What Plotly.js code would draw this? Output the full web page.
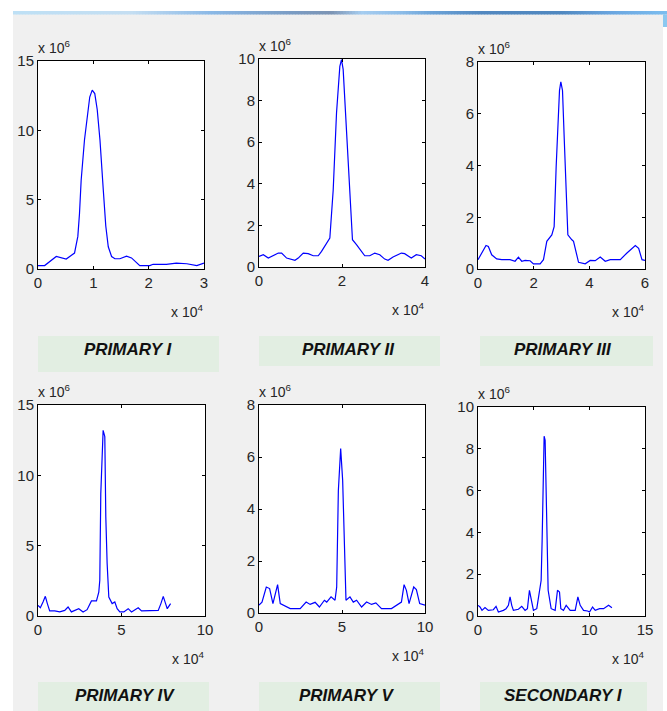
<!DOCTYPE html>
<html>
<head>
<meta charset="utf-8">
<script src="https://cdn.plot.ly/plotly-3.0.1.min.js"></script>
<style>html,body{margin:0;padding:0;background:#fff;}#chart{width:667px;height:711px;}</style>
</head>
<body>
<div id="chart"></div>
<script>
// ---- data (x in units of 10^4, y in units of 10^6) ----
const p1X = [0,0.12,0.33,0.51,0.66,0.72,0.75,0.78,0.84,0.89,0.935,0.98,1.026,1.07,1.12,1.18,1.225,1.27,1.33,1.39,1.48,1.60,1.69,1.84,2.02,2.08,2.32,2.50,2.69,2.87,3.0];
const p1Y = [0.24,0.25,0.9,0.72,1.15,2.35,4.0,6.4,9.3,11.0,12.4,12.9,12.65,11.5,9.3,5.7,3.1,1.6,0.9,0.74,0.74,0.92,0.8,0.24,0.25,0.34,0.34,0.43,0.38,0.24,0.43];

const p2X = [0,0.104,0.224,0.465,0.545,0.665,0.866,0.946,1.066,1.186,1.307,1.427,1.507,1.627,1.707,1.788,1.868,1.948,1.988,2.028,2.092,2.172,2.252,2.349,2.469,2.549,2.669,2.79,2.91,3.03,3.11,3.23,3.43,3.51,3.67,3.79,3.91,4.0];
const p2Y = [0.51,0.59,0.43,0.67,0.67,0.43,0.32,0.43,0.67,0.64,0.54,0.54,0.75,1.15,1.39,3.7,7.4,9.65,9.97,9.5,7.2,3.7,1.31,1.07,0.75,0.54,0.54,0.67,0.59,0.38,0.32,0.48,0.67,0.64,0.43,0.59,0.54,0.38];

const p3X = [0,0.132,0.288,0.372,0.492,0.672,0.852,1.152,1.332,1.452,1.572,1.692,1.872,1.992,2.232,2.352,2.472,2.652,2.736,2.808,2.868,2.928,2.976,3.036,3.096,3.156,3.228,3.372,3.432,3.612,3.852,4.032,4.212,4.392,4.572,4.752,5.112,5.352,5.652,5.772,5.892,6.0];
const p3Y = [0.36,0.62,0.91,0.87,0.55,0.39,0.36,0.36,0.3,0.46,0.3,0.33,0.32,0.2,0.2,0.36,1.07,1.32,1.64,3.95,5.24,6.9,7.23,6.9,5.1,3.05,1.32,1.13,1.07,0.26,0.2,0.33,0.32,0.46,0.3,0.36,0.36,0.62,0.91,0.8,0.36,0.33];

const p4X = [0,0.14,0.3,0.44,0.56,0.7,1.0,1.3,1.6,1.8,2.0,2.2,2.44,2.7,2.94,3.2,3.5,3.64,3.7,3.76,3.9,4.0,4.06,4.14,4.24,4.44,4.6,4.74,4.9,5.14,5.4,5.6,6.0,6.2,6.6,7.2,7.36,7.5,7.64,7.74,7.94];
const p4Y = [0.76,0.59,1.0,1.4,0.88,0.36,0.36,0.29,0.4,0.64,0.29,0.4,0.52,0.29,0.45,1.07,1.07,1.7,2.54,8.7,13.2,12.75,7.05,3.73,1.35,0.88,1.0,0.52,0.29,0.29,0.52,0.29,0.59,0.36,0.36,0.4,0.88,1.4,0.88,0.52,0.88];

const p5X = [0,0.18,0.44,0.64,0.84,0.94,1.12,1.28,1.58,1.88,2.48,2.84,3.08,3.38,3.64,3.94,4.08,4.34,4.58,4.68,4.78,4.92,5.04,5.14,5.24,5.48,5.68,5.88,6.18,6.48,6.78,7.04,7.38,7.98,8.44,8.58,8.74,8.88,9.04,9.32,9.48,9.68,10.0];
const p5Y = [0.3,0.42,1.0,0.94,0.36,0.62,1.09,0.36,0.26,0.17,0.17,0.42,0.33,0.41,0.23,0.49,0.42,0.62,0.49,1.0,4.7,6.33,5.1,2.16,0.49,0.62,0.42,0.49,0.23,0.42,0.33,0.39,0.17,0.17,0.36,0.42,1.09,0.87,0.36,1.0,0.9,0.36,0.3];

const p6X = [0,0.18,0.36,0.63,0.93,1.38,1.62,1.83,2.28,2.52,2.73,2.88,3.03,3.18,3.63,3.93,4.23,4.44,4.62,4.83,4.98,5.28,5.49,5.67,5.76,5.85,5.94,6.03,6.12,6.21,6.30,6.57,6.93,7.14,7.32,7.44,7.68,7.92,8.28,8.73,8.97,9.18,9.48,9.84,10.02,10.29,10.53,10.92,11.28,11.73,12.03];
const p6Y = [0.51,0.43,0.27,0.4,0.27,0.3,0.46,0.19,0.27,0.35,0.51,0.91,0.51,0.27,0.32,0.46,0.27,0.35,1.23,0.59,0.27,0.35,1.07,1.7,3.6,7.1,8.6,8.4,5.7,2.34,1.23,0.35,0.27,1.23,1.15,0.35,0.27,0.51,0.27,0.27,0.91,0.51,0.27,0.24,0.19,0.43,0.27,0.35,0.35,0.51,0.4];

const panelLabels = ['PRIMARY I','PRIMARY II','PRIMARY III','PRIMARY IV','PRIMARY V','SECONDARY I'];
const xTickVals = [[0,1,2,3],[0,2,4],[0,2,4,6],[0,5,10],[0,5,10],[0,5,10,15]];
const yTickVals = [[0,5,10,15],[0,2,4,6,8,10],[0,2,4,6,8],[0,5,10,15],[0,2,4,6,8],[0,2,4,6,8,10]];
const xExpLabel = 'x 10<sup>4</sup>';
const yExpLabel = 'x 10<sup>6</sup>';

// ---- layout geometry (pixels) ----
const W = 667, H = 711;
const boxes = [
  {l:38, r:204, t:61, b:269},
  {l:259,r:425, t:59, b:267},
  {l:478,r:645, t:62, b:269},
  {l:38, r:205, t:405,b:616},
  {l:259,r:425, t:405,b:613},
  {l:478,r:645, t:407,b:616}
];
const labelBoxes = [
  {l:38, r:219, t:336, b:372, cx:128, cy:349},
  {l:259,r:440, t:336, b:366, cx:348, cy:349},
  {l:480,r:653, t:336, b:366, cx:563, cy:349},
  {l:38, r:209, t:682, b:711, cx:125, cy:695},
  {l:259,r:440, t:682, b:711, cx:347, cy:695},
  {l:480,r:647, t:682, b:711, cx:563, cy:695}
];
const px = v => v / W;
const py = v => 1 - v / H;

const xs = [p1X,p2X,p3X,p4X,p5X,p6X];
const ys = [p1Y,p2Y,p3Y,p4Y,p5Y,p6Y];

const traces = xs.map((x, i) => ({
  x: x, y: ys[i], type: 'scatter', mode: 'lines',
  xaxis: 'x' + (i ? i + 1 : ''), yaxis: 'y' + (i ? i + 1 : ''),
  line: {color: '#0000ff', width: 1.2}, hoverinfo: 'skip'
}));

const fam = 'Liberation Sans, Arial, sans-serif';
const tickFont = {family: fam, size: 15, color: '#262626'};
const layout = {
  width: W, height: H, margin: {l:0, r:0, t:0, b:0},
  paper_bgcolor: '#f0f0f0', plot_bgcolor: '#ffffff',
  showlegend: false, shapes: [], annotations: []
};

boxes.forEach((b, i) => {
  const s = i ? i + 1 : '';
  const xv = xTickVals[i], yv = yTickVals[i];
  layout['xaxis' + s] = {
    domain: [px(b.l), px(b.r)], anchor: 'y' + s,
    range: [xv[0], xv[xv.length - 1]], tickvals: xv,
    showline: true, linecolor: '#000', linewidth: 1, mirror: 'ticks',
    ticks: 'inside', ticklen: 3, tickcolor: '#000', tickwidth: 1,
    showgrid: false, zeroline: false, tickfont: tickFont, fixedrange: true
  };
  layout['yaxis' + s] = {
    domain: [py(b.b), py(b.t)], anchor: 'x' + s,
    range: [yv[0], yv[yv.length - 1]], tickvals: yv,
    showline: true, linecolor: '#000', linewidth: 1, mirror: 'ticks',
    ticks: 'inside', ticklen: 3, tickcolor: '#000', tickwidth: 1,
    showgrid: false, zeroline: false, tickfont: tickFont, fixedrange: true
  };
  layout.annotations.push({
    xref: 'paper', yref: 'paper', x: px(b.l - 2), y: py(b.t - 14),
    xanchor: 'left', yanchor: 'middle', showarrow: false,
    text: yExpLabel, font: {family: fam, size: 14, color: '#262626'}
  });
  layout.annotations.push({
    xref: 'paper', yref: 'paper', x: px(b.r + 1), y: py(b.b + 42),
    xanchor: 'right', yanchor: 'middle', showarrow: false,
    text: xExpLabel, font: {family: fam, size: 14, color: '#262626'}
  });
});

// window chrome: white margins, blue title strip
const rect = (l, t, r, b, color) => ({
  type: 'rect', xref: 'paper', yref: 'paper', layer: 'below',
  x0: px(l), x1: px(r), y0: py(b), y1: py(t),
  fillcolor: color, line: {width: 0}
});
layout.shapes.push(rect(0, 0, 13, H, '#ffffff'));
layout.shapes.push(rect(0, 0, W, 11, '#ffffff'));
layout.shapes.push(rect(663, 14.5, W, H, '#ffffff'));
layout.shapes.push(rect(663, 14.5, W, 27, '#8cc8f0'));
const stops = [[13,[190,224,245]],[130,[196,222,242]],[210,[138,184,230]],[290,[122,156,196]],[330,[124,148,180]],[360,[166,205,240]],[400,[140,188,232]],[430,[108,163,216]],[480,[82,136,192]],[560,[80,136,192]],[610,[106,166,224]],[W,[124,190,240]]];
for (let xp = 13; xp < W; xp += 3) {
  let k = 0;
  while (k < stops.length - 2 && stops[k + 1][0] <= xp) k++;
  const [a, ca] = stops[k], [bb, cb] = stops[k + 1];
  const f = Math.min(1, Math.max(0, (xp - a) / (bb - a)));
  const c = ca.map((v, j) => Math.round(v + (cb[j] - v) * f));
  layout.shapes.push(rect(xp, 11, Math.min(W, xp + 3.5), 14.5, 'rgb(' + c.join(',') + ')'));
}

// label panels
labelBoxes.forEach((lb, i) => {
  layout.shapes.push(rect(lb.l, lb.t, lb.r, lb.b, '#e2eee2'));
  layout.annotations.push({
    xref: 'paper', yref: 'paper', x: px(lb.cx), y: py(lb.cy),
    xanchor: 'center', yanchor: 'middle', showarrow: false,
    text: '<b><i>' + panelLabels[i] + '</i></b>',
    font: {family: fam, size: 17, color: '#111'}
  });
});

Plotly.newPlot('chart', traces, layout, {displayModeBar: false});
</script>
</body>
</html>
